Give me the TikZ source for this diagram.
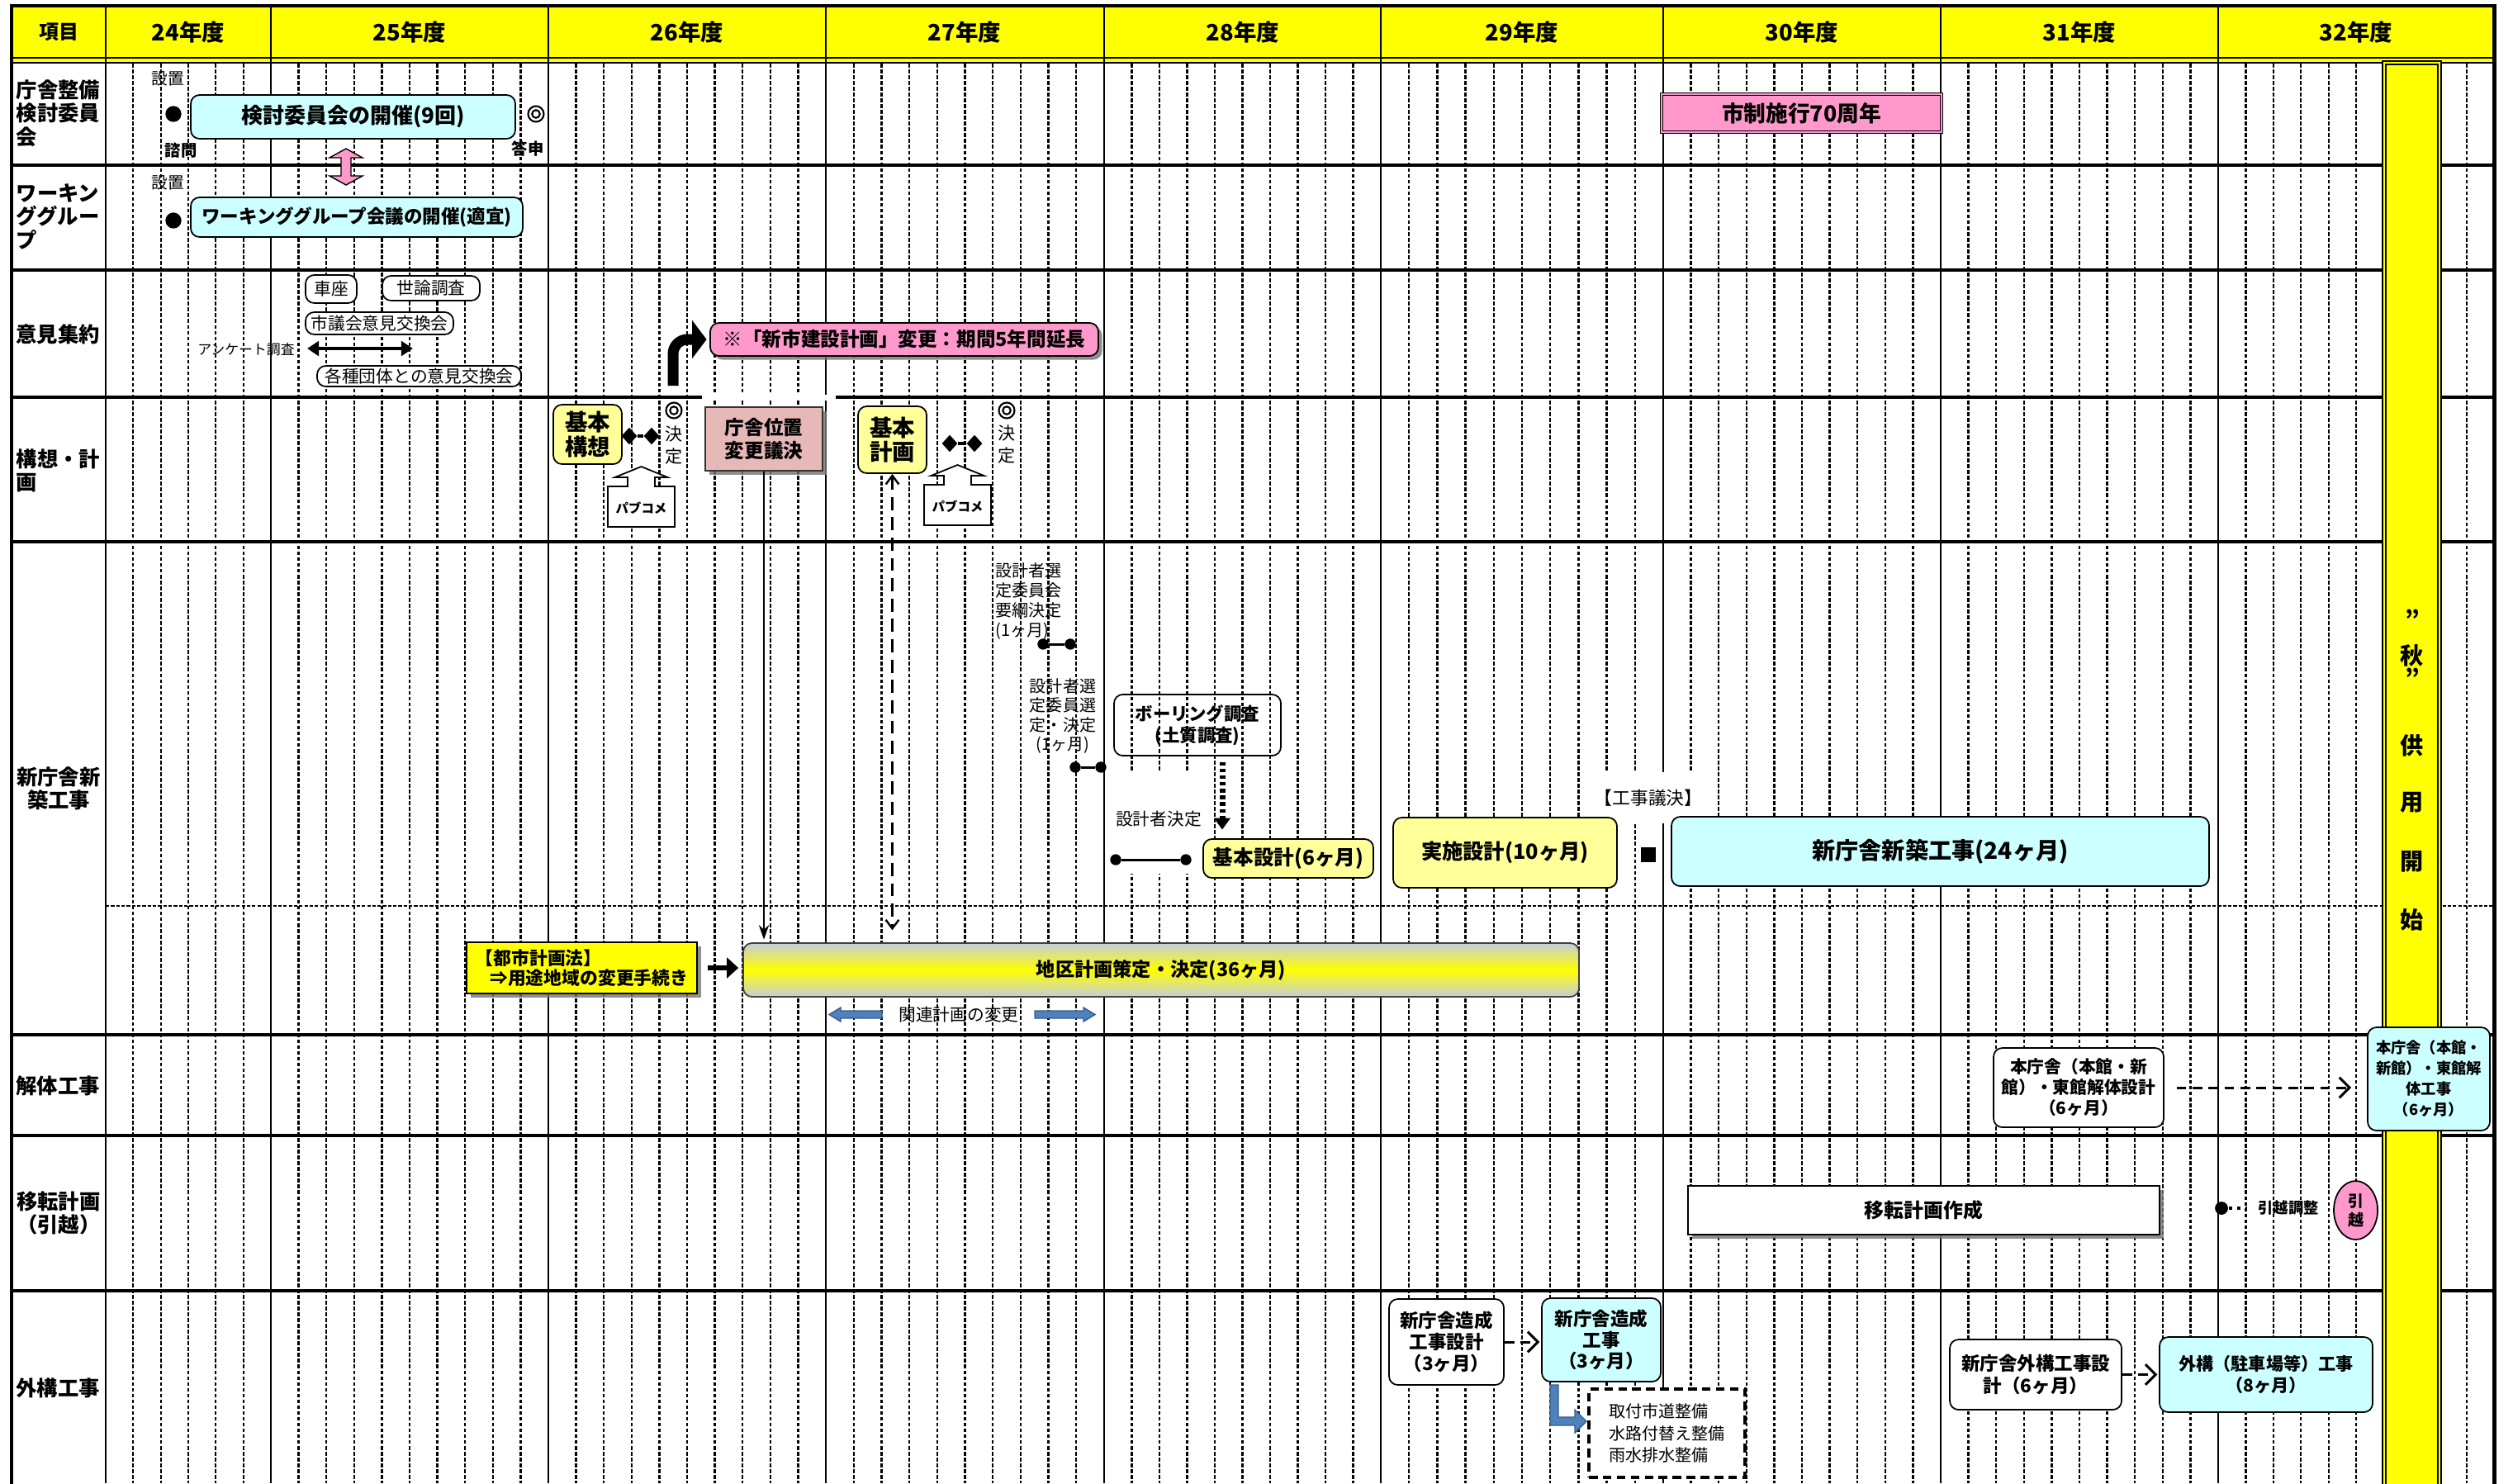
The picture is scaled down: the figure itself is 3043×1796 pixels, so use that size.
\documentclass[tikz,border=0pt]{standalone}
\usepackage{fontspec}
\setmainfont{Noto Sans CJK JP}
\usetikzlibrary{arrows.meta,shapes.geometric,shadows}
\definecolor{hdr}{RGB}{255,255,0}
\definecolor{cyanbox}{RGB}{204,255,255}
\definecolor{ylwbox}{RGB}{255,255,153}
\definecolor{pinkbox}{RGB}{255,153,204}
\definecolor{rosebox}{RGB}{230,184,183}
\definecolor{bluearr}{RGB}{79,129,189}
\definecolor{bluedark}{RGB}{56,93,138}
\definecolor{bargray}{RGB}{196,206,218}
\newcommand\fsz[2]{\fontsize{#1pt}{#2pt}\selectfont}
\newcommand\mkbox[7]{\node[#6, minimum width={(#4-#2)*0.01cm}, minimum height={(#5-#3)*0.01cm}, inner sep=0pt] (#1) at ({(#2+#4)/2},{(#3+#5)/2}) {#7};}
\newcommand\pubcome[3]{%
  \draw[fill=white, line width=0.5pt] ({#2-40.5},{#3+73}) -- ({#2-40.5},{#3+24}) -- ({#2-16.5},{#3+24}) -- ({#2-16.5},{#3+13}) -- ({#2-32},{#3+13}) -- (#2,#3) -- ({#2+32},{#3+13}) -- ({#2+16.5},{#3+13}) -- ({#2+16.5},{#3+24}) -- ({#2+40.5},{#3+24}) -- ({#2+40.5},{#3+73}) -- cycle;
  \node[font=\fsz{4.4}{5}\bfseries, inner sep=0pt] (#1) at (#2,{#3+50}) {パブコメ};}
\newcommand\dblcirc[3]{%
  \node[circle, draw, fill=white, line width=0.6pt, minimum size=5.4pt, inner sep=0pt] (#1) at (#2,#3) {};
  \draw[line width=0.6pt] (#1.center) circle[radius=1.35pt];}
\begin{document}
\begin{tikzpicture}[x=0.01cm,y=-0.01cm,
  mline/.style={line width=0.65pt, dash pattern=on 1.3pt off 0.7pt},
  yline/.style={line width=0.8pt},
  rowline/.style={line width=1pt},
  rbox/.style={draw, line width=0.5pt, rounded corners=3pt, align=center, fill=white},
  cbox/.style={rbox, fill=cyanbox},
  ybox/.style={rbox, fill=ylwbox},
  shad/.style={drop shadow={shadow xshift=1.3pt, shadow yshift=-1.3pt, fill=black!55, opacity=0.8}},
  bdot/.style={circle, fill=black, inner sep=0pt, minimum size=#1},
  diamk/.style={diamond, fill=black, inner sep=0pt, minimum width=5.5pt, minimum height=6pt},
  lbl/.style={font=\fsz{7.2}{8.1}\bfseries, inner sep=0pt},
  hd/.style={font=\fsz{7.8}{8}\bfseries, inner sep=0pt},
  dasharr/.style={line width=0.85pt, dash pattern=on 3.3pt off 2.2pt, -{Straight Barb[length=3.5pt,width=7pt]}},
]
\useasboundingbox (0,0) rectangle (3043,1796);
% header fill
\fill[hdr] (14,7) rectangle (3020,76);
% month lines
\foreach \xa/\xb/\nn in {128/328/6,328/664/10,664/1000/10,1000/1337/10,1337/1672/10,1672/2014/10,2014/2350/10,2350/2686/10,2686/3020/10}{
  \pgfmathsetmacro\st{(\xb-\xa)/\nn}
  \pgfmathtruncatemacro\mm{\nn-1}
  \foreach \k in {1,...,\mm}{\draw[mline] ({\xa+\k*\st},77) -- ({\xa+\k*\st},1796);}
}
% year lines
\foreach \x in {128,328,664,1000,1337,1672,2014,2350,2686}{\draw[yline] (\x,7) -- (\x,1796);}
% row lines
\foreach \y in {200,327,481,656,1253,1375,1563}{\draw[rowline] (14,\y) -- (3020,\y);}
\draw[line width=0.6pt, dash pattern=on 1.2pt off 0.6pt] (128,1097) -- (3020,1097);
\draw[line width=0.8pt] (14,70) -- (3020,70);
\draw[line width=0.8pt] (14,76) -- (3020,76);
\draw[line width=1.4pt] (14,1800) -- (14,7) -- (3020,7) -- (3020,1800);
% white gaps
\fill[white] (1341,933) rectangle (1453,1058);
\fill[white] (1936,935) rectangle (2062,997);
\fill[white] (850,478) rectangle (1012,485);
% yellow bar
\fill[hdr] (2884,74) rectangle (2957,1800);
\draw[line width=0.6pt] (2885,1800) -- (2885,74) -- (2956,74) -- (2956,1800);
\draw[line width=0.45pt] (2889,1800) -- (2889,78) -- (2952,78) -- (2952,1800);
\foreach \yy/\cc [count=\i] in {749/”,794/秋,820/”,903/供,972/用,1043/開,1114/始}{\node[font=\fsz{8}{8}\bfseries, inner sep=0pt] (bar\i) at (2921,\yy) {\cc};}
% header text
\node[font=\fsz{6.8}{7}\bfseries, inner sep=0pt] (hkoumoku) at (71,39) {項目};
\foreach \xc/\yr [count=\i] in {228/24,496/25,832/26,1168/27,1505/28,1843/29,2182/30,2518/31,2853/32}{\node[hd] (hy\i) at (\xc,39) {{\yr}年度};}
% row labels
\node[lbl, align=left, anchor=west] (l1) at (19,137) {庁舎整備\\検討委員\\会};
\node[lbl, align=left, anchor=west] (l2) at (19,262) {ワーキン\\ググルー\\プ};
\node[lbl] (l3) at (70,405) {意見集約};
\node[lbl, align=left, anchor=west] (l4) at (19,570) {構想・計\\画};
\node[lbl, align=center] (l5) at (71,955) {新庁舎新\\築工事};
\node[lbl] (l6) at (70,1315) {解体工事};
\node[lbl, align=center] (l7) at (71,1469) {移転計画\\（引越）};
\node[lbl] (l8) at (70,1681) {外構工事};
% row 1
\node[font=\fsz{5.6}{6}, inner sep=0pt] (setchi1) at (203,95) {設置};
\node[bdot=5.5pt] (d1) at (210,138) {};
\mkbox{kentou}{231}{115}{624}{168}{cbox, font=\fsz{7.4}{8}\bfseries}{検討委員会の開催(9回)}
\dblcirc{maru1}{649}{138}
\node[font=\fsz{5.5}{6}\bfseries, inner sep=0pt] (shimon) at (219,182) {諮問};
\node[font=\fsz{5.5}{6}\bfseries, inner sep=0pt] (toushin) at (639,180) {答申};
\draw[fill=pinkbox, line width=0.4pt] (419,180) -- (439,191) -- (425,191) -- (425,213) -- (439,213) -- (419,224) -- (399,213) -- (413,213) -- (413,191) -- (399,191) -- cycle;
\mkbox{shisei}{2012}{114}{2351}{160}{draw, line width=0.4pt, double=pinkbox, double distance=0.5pt, fill=pinkbox, font=\fsz{7.6}{8}\bfseries}{市制施行70周年}
% row 2
\node[font=\fsz{5.6}{6}, inner sep=0pt] (setchi2) at (203,221) {設置};
\node[bdot=5.5pt] (d2) at (210,267) {};
\mkbox{wg}{231}{239}{633}{287}{cbox, font=\fsz{6.4}{7}\bfseries}{ワーキンググループ会議の開催(適宜)}
% row 3
\mkbox{kuruma}{370}{333}{432}{367}{rbox, font=\fsz{5.9}{6.5}}{車座}
\mkbox{yoron}{463}{334}{581}{364}{rbox, font=\fsz{5.9}{6.5}}{世論調査}
\mkbox{shigikai}{370}{378}{549}{405}{rbox, font=\fsz{5.9}{6.5}}{市議会意見交換会}
\node[font=\fsz{4.8}{5}, inner sep=0pt] (enq) at (298,423) {アンケート調査};
\coordinate (enqA) at (372,422);
\coordinate (enqB) at (500,422);
\draw[line width=1.1pt, {Triangle[length=4pt,width=5pt]}-{Triangle[length=4pt,width=5pt]}] (enqA) -- (enqB);
\mkbox{kakushu}{384}{443}{631}{468}{rbox, font=\fsz{5.9}{6.5}}{各種団体との意見交換会}
\mkbox{shinshi}{860}{391}{1330}{431}{draw, line width=0.5pt, rounded corners=3pt, fill=pinkbox, shad, font=\fsz{6.7}{7}\bfseries}{※「新市建設計画」変更：期間5年間延長}
\coordinate (bentS) at (815,467);
\draw[line width=3.7pt, rounded corners=5pt, -{Triangle[length=5pt,width=13pt]}, shorten >=1pt] (bentS) |- (shinshi.west);
% row 4
\mkbox{kousou}{670}{490}{753}{562}{ybox, font=\fsz{7.8}{8.4}\bfseries}{基本\\構想}
\node[diamk] (dm1) at (762,528) {};
\node[diamk] (dm2) at (789,528) {};
\draw[line width=0.9pt] (dm1) -- (dm2);
\dblcirc{maru2}{816}{497}
\node[font=\fsz{6}{7.9}, align=center, inner sep=0pt] (kettei1) at (816,539) {決\\定};
\pubcome{pub1}{776.5}{565}
\mkbox{chousha}{854}{493}{996}{570}{draw=black!80, line width=0.5pt, fill=rosebox, shad, align=center, font=\fsz{6.7}{8}\bfseries}{庁舎位置\\変更議決}
\mkbox{keikaku}{1039}{492}{1122}{573}{ybox, font=\fsz{7.8}{8.4}\bfseries}{基本\\計画}
\node[diamk] (dm3) at (1150,537) {};
\node[diamk] (dm4) at (1180,537) {};
\draw[line width=0.9pt] (dm3) -- (dm4);
\dblcirc{maru3}{1219}{497}
\node[font=\fsz{6}{7.9}, align=center, inner sep=0pt] (kettei2) at (1219,538) {決\\定};
\pubcome{pub2}{1159.5}{563}
% row 5
\node[font=\fsz{5.7}{6.8}, align=left, anchor=north west, inner sep=0pt] (sel1) at (1205,681) {設計者選\\定委員会\\要綱決定\\(1ヶ月)};
\node[bdot=3.8pt] (s1a) at (1263,780) {};
\node[bdot=3.8pt] (s1b) at (1296,780) {};
\draw[line width=0.85pt] (s1a) -- (s1b);
\node[font=\fsz{5.7}{6.7}, align=center, inner sep=0pt] (sel2) at (1287,867) {設計者選\\定委員選\\定・決定\\(1ヶ月)};
\node[bdot=3.8pt] (s2a) at (1302,929) {};
\node[bdot=3.8pt] (s2b) at (1333,929) {};
\draw[line width=0.85pt] (s2a) -- (s2b);
\mkbox{boring}{1349}{841}{1551}{915}{draw, line width=0.5pt, rounded corners=3pt, align=center, font=\fsz{6.1}{7.3}\bfseries}{ボーリング調査\\(土質調査)}
\node[font=\fsz{5.9}{6}, inner sep=0pt] (sekkeisha) at (1403,992) {設計者決定};
\node[bdot=3.8pt] (s3a) at (1351,1041) {};
\node[bdot=3.8pt] (s3b) at (1436,1041) {};
\draw[line width=0.85pt] (s3a) -- (s3b);
\mkbox{kihonsekkei}{1457}{1016}{1663}{1063}{ybox, font=\fsz{7}{7.5}\bfseries}{基本設計(6ヶ月)}
\mkbox{jisshi}{1687}{990}{1958}{1075}{ybox, font=\fsz{7.2}{7.5}\bfseries}{実施設計(10ヶ月)}
\node[font=\fsz{6.2}{6.5}, inner sep=0pt] (kougigi) at (1996,966) {【工事議決】};
\node[fill=black, minimum size=5pt, inner sep=0pt] (sq) at (1996,1035) {};
\mkbox{shinchiku}{2024}{989}{2675}{1073}{cbox, font=\fsz{8}{8.5}\bfseries}{新庁舎新築工事(24ヶ月)}
\mkbox{toshi}{565}{1141}{844}{1203}{draw, line width=0.5pt, fill=hdr, shad, align=left, font=\fsz{6.2}{6.9}\bfseries}{【都市計画法】\\\hspace*{5pt}⇒用途地域の変更手続き}
\mkbox{chiku}{900}{1142}{1912}{1207}{draw=black!75, line width=0.5pt, rounded corners=3pt, top color=bargray, bottom color=bargray, middle color=hdr, font=\fsz{6.6}{7}\bfseries}{地区計画策定・決定(36ヶ月)}
\node[font=\fsz{5.9}{6}, inner sep=0pt] (kanren) at (1161,1229) {関連計画の変更};
\fill[bluearr, draw=bluedark, line width=0.4pt] (1068,1224) -- (1018,1224) -- (1018,1220) -- (1004,1228.5) -- (1018,1237) -- (1018,1233) -- (1068,1233) -- cycle;
\fill[bluearr, draw=bluedark, line width=0.4pt] (1253,1224) -- (1312,1224) -- (1312,1220) -- (1326,1228.5) -- (1312,1237) -- (1312,1233) -- (1253,1233) -- cycle;
% row 5 connectors
\draw[line width=0.6pt, -{Stealth[length=5pt,width=3.5pt]}, shorten >=1pt] (chousha.south) -- (chousha.south |- chiku.north);
\draw[line width=0.7pt, dash pattern=on 4.5pt off 2.5pt, {Straight Barb[length=3pt,width=4.5pt]}-{Straight Barb[length=3pt,width=4.5pt]}, shorten >=4.2pt] (keikaku.south) -- (keikaku.south |- chiku.north);
\coordinate (bx) at (1480,0);
\draw[line width=2pt, dash pattern=on 1.2pt off 1.1pt, -{Triangle[length=4pt,width=5.5pt]}, shorten <=2pt, shorten >=3pt] (boring.south -| bx) -- (kihonsekkei.north -| bx);
\draw[line width=1.6pt, -{Triangle[length=4pt,width=7pt]}, shorten <=3.4pt, shorten >=1.4pt] (toshi.east) -- (toshi.east -| chiku.west);
% demolition row
\mkbox{kaitaiS}{2414}{1269}{2620}{1365}{rbox, font=\fsz{5.9}{7.1}\bfseries}{本庁舎（本館・新\\館）・東館解体設計\\（6ヶ月）}
\mkbox{kaitaiW}{2867}{1244}{3015}{1369}{cbox, font=\fsz{5.2}{7.1}\bfseries}{本庁舎（本館・\\新館）・東館解\\体工事\\（6ヶ月）}
\draw[dasharr, shorten <=4.2pt, shorten >=5.4pt] (kaitaiS.east) -- (kaitaiS.east -| kaitaiW.west);
% relocation row
\mkbox{iten}{2044}{1436}{2615}{1495}{draw, line width=0.5pt, fill=white, shad, font=\fsz{6.8}{7}\bfseries}{移転計画作成}
\node[bdot=4.5pt] (hdot) at (2690,1463) {};
\draw[line width=1.2pt, dash pattern=on 1.1pt off 1.8pt] (hdot.east) -- ++(22,0);
\node[font=\fsz{5.2}{6}\bfseries, inner sep=0pt] (hchousei) at (2771,1463) {引越調整};
\node[ellipse, draw, line width=0.5pt, fill=pinkbox, minimum width=0.53cm, minimum height=0.71cm, inner sep=0pt, align=center, font=\fsz{5.4}{6.5}\bfseries] (hikkoshi) at (2852.5,1465.5) {引\\越};
% exterior row
\mkbox{zouseiA}{1682}{1573}{1821}{1677}{rbox, font=\fsz{6.4}{7.3}\bfseries}{新庁舎造成\\工事設計\\（3ヶ月）}
\mkbox{zouseiB}{1867}{1572}{2011}{1673}{cbox, font=\fsz{6.4}{7.3}\bfseries}{新庁舎造成\\工事\\（3ヶ月）}
\draw[dasharr, shorten >=0.5pt] (zouseiA.east) -- (zouseiA.east -| zouseiB.west);
\fill[bluearr, draw=bluedark, line width=0.4pt] (1877,1677) -- (1877,1726) -- (1907,1726) -- (1907,1735) -- (1921,1721) -- (1907,1707) -- (1907,1716) -- (1887,1716) -- (1887,1677) -- cycle;
\mkbox{seibi}{1924}{1682}{2113}{1789}{draw, fill=white, line width=1pt, dash pattern=on 3pt off 1.8pt, align=left, font=\fsz{5.7}{7.5}}{取付市道整備\\水路付替え整備\\雨水排水整備}
\mkbox{gaikouC}{2361}{1622}{2569}{1707}{rbox, font=\fsz{6.4}{7.4}\bfseries}{新庁舎外構工事設\\計（6ヶ月）}
\mkbox{gaikouD}{2615}{1619}{2873}{1710}{cbox, font=\fsz{6}{7.5}\bfseries}{外構（駐車場等）工事\\（8ヶ月）}
\draw[dasharr, shorten >=0.5pt] (gaikouC.east) -- (gaikouC.east -| gaikouD.west);
\end{tikzpicture}
\end{document}
